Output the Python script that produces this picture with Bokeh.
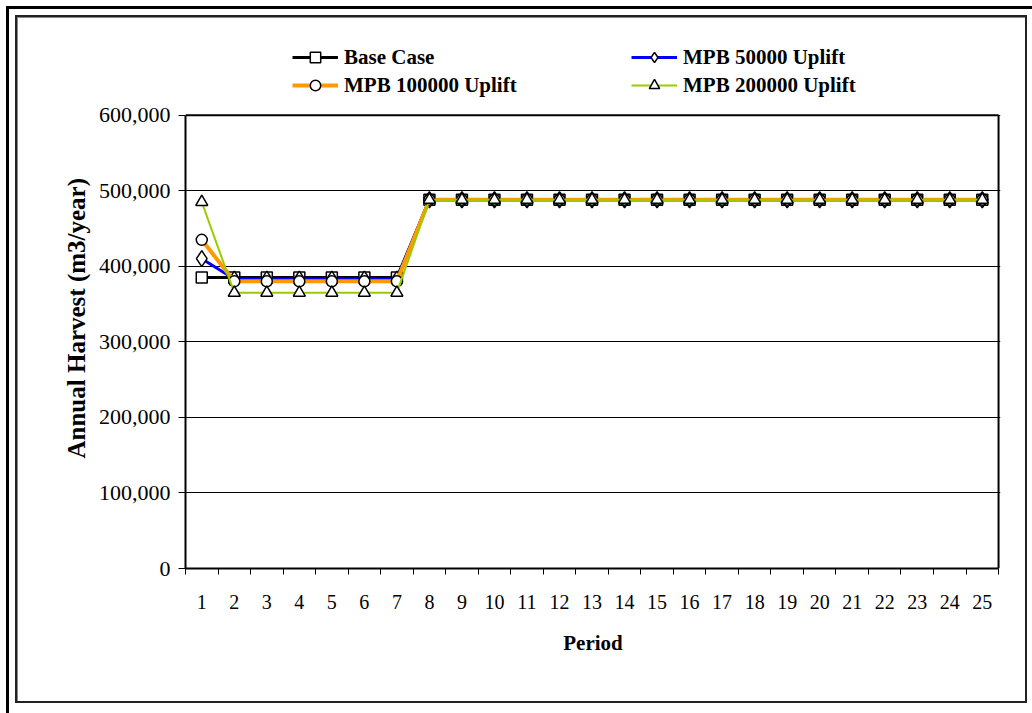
from bokeh.plotting import figure
from bokeh.layouts import column
from bokeh.models import (Range1d, FixedTicker, NumeralTickFormatter, Legend, LegendItem,
                          ColumnDataSource, Div, Title)
from bokeh.embed import file_html
from bokeh.resources import INLINE

# Annual harvest by period for each scenario (m3/year)
periods = [1, 2, 3, 4, 5, 6, 7, 8, 9, 10, 11, 12, 13, 14, 15, 16, 17, 18, 19, 20, 21, 22, 23, 24, 25]
base_case = [385000, 385000, 385000, 385000, 385000, 385000, 385000, 488000, 488000, 488000,
             488000, 488000, 488000, 488000, 488000, 488000, 488000, 488000, 488000, 488000,
             488000, 488000, 488000, 488000, 488000]
mpb_50000 = [410000, 383000, 383000, 383000, 383000, 383000, 383000, 488000, 488000, 488000,
             488000, 488000, 488000, 488000, 488000, 488000, 488000, 488000, 488000, 488000,
             488000, 488000, 488000, 488000, 488000]
mpb_100000 = [435000, 380000, 380000, 380000, 380000, 380000, 380000, 488000, 488000, 488000,
              488000, 488000, 488000, 488000, 488000, 488000, 488000, 488000, 488000, 488000,
              488000, 488000, 488000, 488000, 488000]
mpb_200000 = [485000, 365000, 365000, 365000, 365000, 365000, 365000, 488000, 488000, 488000,
              488000, 488000, 488000, 488000, 488000, 488000, 488000, 488000, 488000, 488000,
              488000, 488000, 488000, 488000, 488000]

series_names = ["Base Case", "MPB 50000 Uplift", "MPB 100000 Uplift", "MPB 200000 Uplift"]
y_ticks = [0, 100000, 200000, 300000, 400000, 500000, 600000]

FONT = "Liberation Serif"
Y_MAX = 600000
X_MIN, X_MAX = 0.5, 25.5

# the drawing area reaches up into the legend band, so the axis is bounded at Y_MAX
fig = figure(width=1032, height=712, output_backend="svg", toolbar_location=None,
             x_range=Range1d(X_MIN, 25.56), y_range=Range1d(0, 712000),
             min_border_left=185, min_border_right=32, min_border_top=30, min_border_bottom=144,
             background_fill_color="white", border_fill_color="white")
fig.outline_line_color = None

# x axis: labels at period centres, tick marks between periods
fig.xaxis.ticker = FixedTicker(ticks=periods, minor_ticks=[x - 0.5 for x in periods] + [X_MAX])
fig.xaxis.bounds = (X_MIN, X_MAX)
fig.xaxis.major_tick_line_color = None
fig.xaxis.major_tick_out = 0
fig.xaxis.major_tick_in = 0
fig.xaxis.minor_tick_out = 6
fig.xaxis.minor_tick_in = 0
fig.xaxis.minor_tick_line_color = "black"
fig.xaxis.minor_tick_line_width = 1
fig.xaxis.axis_line_color = "black"
fig.xaxis.axis_line_width = 2
fig.xaxis.major_label_text_font = FONT
fig.xaxis.major_label_text_font_size = "20px"
fig.xaxis.major_label_text_color = "black"
fig.xaxis.major_label_standoff = 20
fig.xaxis.axis_label = "Period"
fig.xaxis.axis_label_text_font = FONT
fig.xaxis.axis_label_text_font_style = "bold"
fig.xaxis.axis_label_text_font_size = "21px"
fig.xaxis.axis_label_text_color = "black"
fig.xaxis.axis_label_standoff = 19

# y axis
fig.yaxis.ticker = FixedTicker(ticks=y_ticks)
fig.yaxis.bounds = (0, Y_MAX)
fig.yaxis.formatter = NumeralTickFormatter(format="0,0")
fig.yaxis.minor_tick_line_color = None
fig.yaxis.major_tick_out = 7
fig.yaxis.major_tick_in = 0
fig.yaxis.major_tick_line_color = "black"
fig.yaxis.axis_line_color = "black"
fig.yaxis.axis_line_width = 2
fig.yaxis.major_label_text_font = FONT
fig.yaxis.major_label_text_font_size = "22px"
fig.yaxis.major_label_text_color = "black"
fig.yaxis.major_label_standoff = 8

# y axis title, placed along the bounded part of the axis
ytitle = Title(text="Annual Harvest (m3/year)", align="left", offset=110, standoff=12,
               text_font=FONT, text_font_style="bold", text_font_size="25px", text_color="black")
fig.add_layout(ytitle, "left")

fig.xgrid.grid_line_color = None
fig.ygrid.grid_line_color = "black"
fig.ygrid.grid_line_width = 1
fig.ygrid.bounds = (X_MIN, X_MAX)

# top and right edges of the plot area
fig.segment(x0=[X_MIN, X_MAX], y0=[Y_MAX, 0], x1=[X_MAX, X_MAX], y1=[Y_MAX, Y_MAX],
            line_color="black", line_width=2)

src = ColumnDataSource(dict(x=periods, base=base_case, m50=mpb_50000, m100=mpb_100000, m200=mpb_200000))

styles = [
    ("base", "black", 3, "square", 11),
    ("m50", "#0000FF", 3, "diamond", 16),
    ("m100", "#FF9900", 4, "circle", 11),
    ("m200", "#99CC00", 2, "triangle", 12),
]

items = []
for (col, color, lw, marker, size), name in zip(styles, series_names):
    ln = fig.line("x", col, source=src, line_color=color, line_width=lw)
    sc = fig.scatter("x", col, source=src, marker=marker, size=size,
                     fill_color="white", line_color="black", line_width=1.5)
    items.append(LegendItem(label=name, renderers=[ln, sc]))

# legend entries in two rows and two columns above the plot
positions = [(107, 498), (446, 498), (107, 470), (446, 470)]
for item, loc in zip(items, positions):
    lg = Legend(items=[item], location=loc, orientation="horizontal",
                padding=0, margin=0, spacing=0, border_line_color=None,
                background_fill_alpha=0, glyph_width=46, glyph_height=26,
                label_standoff=6, label_height=26,
                label_text_font=FONT, label_text_font_style="bold",
                label_text_font_size="21px", label_text_color="black")
    fig.add_layout(lg, "center")

# double frame around the whole chart
frames = Div(width=1032, height=1, text=(
    '<div style="position:fixed;left:6px;top:6px;width:1100px;height:800px;'
    'border-left:3px solid #000;border-top:3px solid #000;pointer-events:none;z-index:10"></div>'
    '<div style="position:fixed;left:15px;top:15px;width:1012px;height:688px;'
    'border:2px solid #222;box-shadow:inset 1px 1px 0 #888;pointer-events:none;z-index:10"></div>'
))

p = column(fig, frames, spacing=0)

open("out.html", "w").write(file_html(p, INLINE))
